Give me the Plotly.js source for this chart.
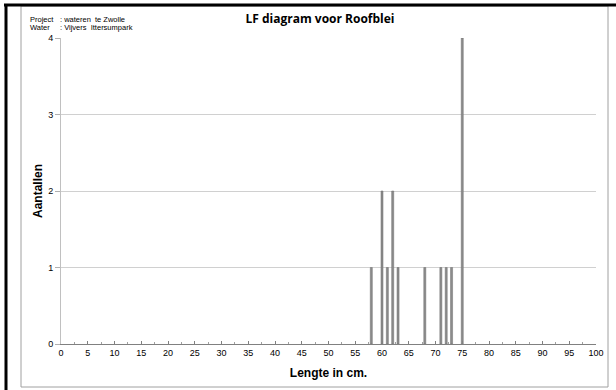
<!DOCTYPE html>
<html>
<head>
<meta charset="utf-8">
<script src="https://cdn.plot.ly/plotly-3.0.1.min.js"></script>
<style>html,body{margin:0;padding:0;background:#fff;}#chart{width:616px;height:390px;}</style>
</head>
<body>
<div id="chart"></div>
<script>
var lengths = [58, 60, 61, 62, 63, 68, 71, 72, 73, 75];
var counts  = [1, 2, 1, 2, 1, 1, 1, 1, 1, 4];
var xTickVals = [0,5,10,15,20,25,30,35,40,45,50,55,60,65,70,75,80,85,90,95,100];
var yTickVals = [0,1,2,3,4];
var chartTitle = "LF diagram voor Roofblei";
var infoLabels = ["Project", "Water"];
var infoValues = [": wateren  te Zwolle", ": Vijvers  Ittersumpark"];

// plot area in pixels
var L = 61, R = 596, T = 38, B = 344;
function px(x){ return (x - L) / (R - L); }
function py(y){ return (B - y) / (B - T); }

var trace = {
  type: 'bar',
  x: lengths,
  y: counts,
  width: 0.38,
  marker: {color: '#8c8c8c', line: {color: '#6e6e6e', width: 0.5}},
  hoverinfo: 'x+y'
};

var annotations = [];
for (var i = 0; i < infoLabels.length; i++) {
  annotations.push({xref:'paper', yref:'paper', x: px(28), y: py(20 + i*8), xanchor:'left', yanchor:'middle',
    text: infoLabels[i], showarrow:false, font:{family:'Liberation Sans, Arial', size:7.5, color:'#000'}});
  annotations.push({xref:'paper', yref:'paper', x: px(58), y: py(20 + i*8), xanchor:'left', yanchor:'middle',
    text: infoValues[i], showarrow:false, font:{family:'Liberation Sans, Arial', size:7.5, color:'#000'}});
}

var layout = {
  width: 616, height: 390,
  margin: {l: L, r: 616 - R, t: T, b: 390 - B},
  paper_bgcolor: '#ffffff', plot_bgcolor: '#ffffff',
  showlegend: false,
  bargap: 0,
  title: {text: '<b>' + chartTitle + '</b>', xref:'container', yref:'container', x: 320/616, y: 1 - 19/390,
    xanchor:'center', yanchor:'middle', font:{family:'Open Sans, Liberation Sans, Arial', size:12, color:'#000'}},
  xaxis: {
    range: [0, 100], tickvals: xTickVals, ticks: 'inside', ticklen: 3, tickcolor: '#808080',
    showline: true, linecolor: '#808080', linewidth: 1, showgrid: false, zeroline: false,
    minor: {dtick: 2.5, ticks: 'inside', ticklen: 2, tickcolor: '#a0a0a0', showgrid: false},
    tickfont: {family: 'Liberation Sans, Arial', size: 9, color: '#000'},
    title: {text: '<b>Lengte in cm.</b>', standoff: 11, font: {family: 'Liberation Sans, Arial', size: 12, color: '#000'}}
  },
  yaxis: {
    range: [0, 4], tickvals: yTickVals, ticks: 'outside', ticklen: 5, tickcolor: '#b0b0b0',
    showline: true, linecolor: '#c0c0c0', linewidth: 1, showgrid: true, gridcolor: '#d0d0d0', gridwidth: 1,
    zeroline: false,
    tickfont: {family: 'Liberation Sans, Arial', size: 9, color: '#000'},
    title: {text: '<b>Aantallen</b>', standoff: 2, font: {family: 'Liberation Sans, Arial', size: 12, color: '#000'}}
  },
  annotations: annotations,
  shapes: [
    {type:'rect', xref:'paper', yref:'paper', x0: px(21), x1: px(608), y0: py(387), y1: py(6),
      line:{color:'#a0a0a0', width:1}, layer:'below'},
    {type:'line', xref:'paper', yref:'paper', x0: px(4), x1: px(616), y0: py(5), y1: py(5),
      line:{color:'#000', width:3}},
    {type:'line', xref:'paper', yref:'paper', x0: px(6), x1: px(6), y0: py(4), y1: py(390),
      line:{color:'#000', width:3}}
  ]
};

Plotly.newPlot('chart', [trace], layout, {displayModeBar: false, staticPlot: true});
</script>
</body>
</html>
